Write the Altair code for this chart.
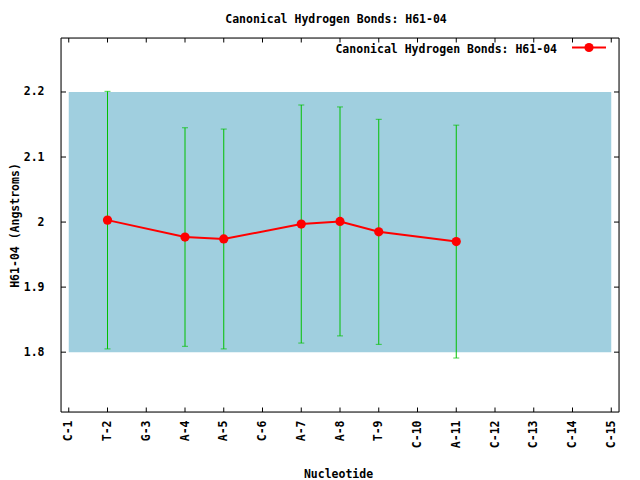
import json
import altair as alt
import pandas as pd

# ---- data ----
nucleotides = ["C-1", "T-2", "G-3", "A-4", "A-5", "C-6", "A-7", "A-8", "T-9",
               "C-10", "A-11", "C-12", "C-13", "C-14", "C-15"]
obs_index = [2, 4, 5, 7, 8, 9, 11]
obs_mean = [2.003, 1.977, 1.974, 1.997, 2.001, 1.985, 1.970]
obs_std = [0.198, 0.168, 0.169, 0.183, 0.176, 0.173, 0.179]
band_x = [1, 15]
band_y = [1.8, 2.2]
y_ticks = [1.8, 1.9, 2.0, 2.1, 2.2]
title_text = "Canonical Hydrogen Bonds: H61-04"

FONT = "DejaVu Sans Mono"
FS = 11.5
W, H = 558, 374
XDOM = [0.8, 15.2]
YDOM = [1.708, 2.283]

df = pd.DataFrame({
    "pos": obs_index,
    "mean": obs_mean,
    "lo": [m - s for m, s in zip(obs_mean, obs_std)],
    "hi": [m + s for m, s in zip(obs_mean, obs_std)],
})
band = pd.DataFrame({"x": [band_x[0]], "x2": [band_x[1]], "y": [band_y[0]], "y2": [band_y[1]]})
xt = pd.DataFrame({"pos": list(range(1, len(nucleotides) + 1))})
yt = pd.DataFrame({"v": y_ticks})

label_expr = json.dumps(nucleotides) + "[round(datum.value) - 1]"

xscale = alt.Scale(domain=XDOM, nice=False, zero=False)
yscale = alt.Scale(domain=YDOM, nice=False, zero=False)

x_axis = alt.Axis(
    values=list(range(1, len(nucleotides) + 1)), labelExpr=label_expr,
    labelAngle=270, labelAlign="right", labelBaseline="middle",
    labelPadding=8, ticks=False, tickSize=0, domain=False, grid=False,
    labelFont=FONT, labelFontSize=FS, labelFontWeight="bold", labelColor="black",
    title="Nucleotide", titleFont=FONT, titleFontSize=FS, titleFontWeight="bold",
    titleColor="black", titleX=W / 2 - 2, titleY=65, titleBaseline="alphabetic",
    titleAlign="center", labelFlush=False, labelOverlap=False, labelBound=False,
)
y_axis = alt.Axis(
    values=y_ticks, format=".1~f", ticks=False, tickSize=0, domain=False, grid=False,
    labelPadding=17, labelFont=FONT, labelFontSize=FS, labelFontWeight="bold",
    labelColor="black", labelBaseline="middle", labelOverlap=False,
    title="H61-04 (Angstroms)", titleFont=FONT, titleFontSize=FS,
    titleFontWeight="bold", titleColor="black", titleAngle=270,
    titleX=-46, titleY=H / 2, titleBaseline="middle", titleAlign="center",
)

X = lambda f: alt.X(f, scale=xscale, axis=x_axis)
Y = lambda f: alt.Y(f, scale=yscale, axis=y_axis)

base_band = alt.Chart(band).mark_rect(color="#a0cfdf").encode(
    x=X("x:Q"), x2="x2:Q", y=Y("y:Q"), y2="y2:Q",
)

ebar = alt.Chart(df).mark_rule(color="#00c000", strokeWidth=1).encode(
    x=X("pos:Q"), y=Y("lo:Q"), y2="hi:Q"
)
cap_lo = alt.Chart(df).mark_tick(color="#00c000", orient="horizontal", size=6, thickness=1).encode(
    x=X("pos:Q"), y=Y("lo:Q")
)
cap_hi = alt.Chart(df).mark_tick(color="#00c000", orient="horizontal", size=6, thickness=1).encode(
    x=X("pos:Q"), y=Y("hi:Q")
)
line = alt.Chart(df).mark_line(color="#ff0000", strokeWidth=2).encode(
    x=X("pos:Q"), y=Y("mean:Q")
)
pts = alt.Chart(df).mark_circle(color="#ff0000", size=85, opacity=1).encode(
    x=X("pos:Q"), y=Y("mean:Q")
)

# inward ticks (gnuplot style, mirrored)
TL = 4.5
xt_bot = alt.Chart(xt).mark_rule(color="black", strokeWidth=1).encode(
    x=X("pos:Q"), y=alt.value(H), y2=alt.value(H - TL))
xt_top = alt.Chart(xt).mark_rule(color="black", strokeWidth=1).encode(
    x=X("pos:Q"), y=alt.value(0), y2=alt.value(TL))
yt_left = alt.Chart(yt).mark_rule(color="black", strokeWidth=1).encode(
    y=Y("v:Q"), x=alt.value(0), x2=alt.value(TL + 0.5))
yt_right = alt.Chart(yt).mark_rule(color="black", strokeWidth=1).encode(
    y=Y("v:Q"), x=alt.value(W), x2=alt.value(W - TL - 0.5))

# frame, chart title and key (legend) in upper right
leg_df = pd.DataFrame({"t": [title_text]})
frame = alt.Chart(leg_df).mark_rect(fill=None, stroke="black", strokeWidth=1).encode(
    x=alt.value(0), x2=alt.value(W), y=alt.value(0), y2=alt.value(H))
title_mark = alt.Chart(leg_df).mark_text(
    font=FONT, fontSize=FS, fontWeight="bold", align="center", baseline="alphabetic",
    color="black").encode(text="t:N", x=alt.value(W / 2 - 4), y=alt.value(-15.5))
leg_text = alt.Chart(leg_df).mark_text(
    font=FONT, fontSize=FS, fontWeight="bold", align="right", baseline="alphabetic",
    color="black").encode(text="t:N", x=alt.value(496), y=alt.value(14.5))
leg_line = alt.Chart(leg_df).mark_rule(color="#ff0000", strokeWidth=2).encode(
    x=alt.value(511), x2=alt.value(545), y=alt.value(9.5))
leg_pt = alt.Chart(leg_df).mark_circle(color="#ff0000", size=85, opacity=1).encode(
    x=alt.value(528), y=alt.value(9.5))

chart = alt.layer(
    base_band, ebar, cap_lo, cap_hi, line, pts,
    xt_bot, xt_top, yt_left, yt_right, frame, title_mark, leg_text, leg_line, leg_pt,
).properties(
    width=W, height=H,
    autosize=alt.AutoSizeParams(type="none"),
    padding={"left": 53, "top": 30, "right": 13, "bottom": 72},
).configure_view(stroke=None).configure(background="white")

chart.save("out.html", embed_options={"renderer": "svg", "actions": False})
